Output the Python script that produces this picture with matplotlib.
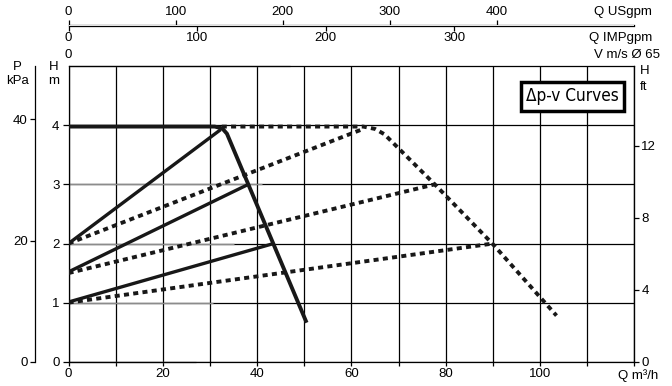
import matplotlib
matplotlib.use('Agg')
import matplotlib.pyplot as plt

plt.rcParams['font.family'] = ['Liberation Sans', 'DejaVu Sans']
plt.rcParams['font.size'] = 9.5

# ---- data (Q in m3/h, H in m) ----
q_max_solid = [0, 31.0, 32.6, 33.6, 50.5]
h_max_solid = [3.98, 3.98, 3.95, 3.86, 0.66]

q_max_dash = [32.5, 62.5, 65.0, 67.0, 77.7, 90.0, 103.5]
h_max_dash = [3.98, 3.98, 3.94, 3.85, 3.00, 1.99, 0.78]

q_solid_a = [0, 32.3]
h_solid_a = [2.0, 3.93]
q_solid_b = [0, 38.1]
h_solid_b = [1.52, 3.0]
q_solid_c = [0, 43.5]
h_solid_c = [1.01, 2.0]

q_dash_1 = [0, 62.5]
h_dash_1 = [2.0, 3.94]
q_dash_2 = [0, 77.6]
h_dash_2 = [1.5, 3.0]
q_dash_3 = [0, 90.0]
h_dash_3 = [1.0, 2.0]

# grey print shadows along horizontal lines: (H level, Q end)
shadow_levels = [0, 1, 2, 3, 5]
shadow_ends = [27, 30.6, 35, 41, 47]

x_ticks = list(range(0, 121, 10))
x_labels = ['0', '', '20', '', '40', '', '60', '', '80', '', '100', '', '']
h_ticks = [0, 1, 2, 3, 4]
kpa_ticks = [0, 20, 40]
ft_ticks = [0, 4, 8, 12]
us_ticks = [0, 100, 200, 300, 400]
imp_ticks = [0, 100, 200, 300]

KPA_PER_M = 9.75
FT_PER_M = 3.28
M3H_PER_US = 0.22712
M3H_PER_IMP = 0.27277

W, Hh = 672, 386
fig = plt.figure(figsize=(W / 100, Hh / 100), dpi=100)
L, R, T, B = 68.5, 634.3, 66.3, 361.7
ax = fig.add_axes([L / W, 1 - B / Hh, (R - L) / W, (B - T) / Hh])
ax.set_xlim(0, 120)
ax.set_ylim(0, 5)

ax.set_xticks(x_ticks)
ax.set_xticklabels(x_labels)
ax.set_yticks(h_ticks)
ax.grid(True, color='black', lw=0.9, zorder=1)
ax.set_axisbelow(True)
for s in ax.spines.values():
    s.set_linewidth(0.9)
    s.set_color('black')
ax.tick_params(axis='x', direction='out', length=3, width=0.9, pad=1.5, colors='black')
ax.tick_params(axis='y', direction='out', length=4, width=0.9, pad=2.5, colors='black')

for lev, qe in zip(shadow_levels, shadow_ends):
    ax.plot([0, qe], [lev, lev], color='#8c8c8c', lw=1.0, zorder=2, clip_on=False,
            solid_capstyle='butt')

col = '#181818'
dash = (0, (1.3, 1.1))
ax.plot(q_dash_1, h_dash_1, color=col, lw=2.8, ls=dash, zorder=3)
ax.plot(q_dash_2, h_dash_2, color=col, lw=2.8, ls=dash, zorder=3)
ax.plot(q_dash_3, h_dash_3, color=col, lw=2.8, ls=dash, zorder=3)
ax.plot(q_max_dash, h_max_dash, color=col, lw=2.8, ls=dash, zorder=3)

ax.plot(q_solid_a, h_solid_a, color=col, lw=2.4, zorder=4, solid_capstyle='butt')
ax.plot(q_solid_b, h_solid_b, color=col, lw=2.4, zorder=4, solid_capstyle='butt')
ax.plot(q_solid_c, h_solid_c, color=col, lw=2.4, zorder=4, solid_capstyle='butt')
ax.plot(q_max_solid, h_max_solid, color=col, lw=2.8, zorder=4, solid_capstyle='butt',
        solid_joinstyle='round')

# left kPa axis
kpa = ax.secondary_yaxis((35 - L) / (R - L),
                         functions=(lambda h: h * KPA_PER_M, lambda p: p / KPA_PER_M))
kpa.set_yticks(kpa_ticks)
kpa.spines['left'].set_linewidth(0.9)
kpa.tick_params(direction='out', length=3.6, width=0.9, pad=1.5)

# right ft axis
ft = ax.secondary_yaxis('right', functions=(lambda h: h * FT_PER_M, lambda f: f / FT_PER_M))
ft.set_yticks(ft_ticks)
ft.tick_params(direction='out', length=3.6, width=0.9, pad=1.5)

# top flow axes
top_loc = (B - 25.5) / (B - T)
us = ax.secondary_xaxis(top_loc, functions=(lambda q: q / M3H_PER_US, lambda u: u * M3H_PER_US))
us.set_xticks(us_ticks)
us.tick_params(direction='out', length=3.6, width=0.9, pad=1.5)
us.spines['top'].set_linewidth(0.9)

imp = ax.secondary_xaxis(top_loc, functions=(lambda q: q / M3H_PER_IMP, lambda i: i * M3H_PER_IMP))
imp.set_alignment('bottom')
imp.set_xticks(imp_ticks)
imp.tick_params(direction='out', length=3.6, width=0.9, pad=1.0)
imp.spines['bottom'].set_linewidth(0.9)

def ftext(x, y, s, **kw):
    fig.text(x / W, 1 - y / Hh, s, **kw)

ftext(17.5, 67, 'P', ha='center', va='center')
ftext(17.5, 81.5, 'kPa', ha='center', va='center')
ftext(54, 67, 'H', ha='center', va='center')
ftext(54, 81.5, 'm', ha='center', va='center')
ftext(640, 70.5, 'H', ha='left', va='center')
ftext(640, 86.5, 'ft', ha='left', va='center')
ftext(652, 12.5, 'Q USgpm', ha='right', va='center')
ftext(652, 37.5, 'Q IMPgpm', ha='right', va='center')
ftext(660, 54.5, 'V m/s Ø 65', ha='right', va='center')
ftext(68.5, 54.5, '0', ha='center', va='center')
ftext(638, 376, 'Q m³/h', ha='center', va='center')

ax.text(106.9, 4.49, 'Δp-v Curves', ha='center', va='center', fontsize=12.3,
        family='DejaVu Sans', fontstretch='condensed', zorder=6,
        bbox=dict(boxstyle='square,pad=0.3', fc='white', ec='black', lw=2.5))

fig.savefig('out.png', dpi=100)
